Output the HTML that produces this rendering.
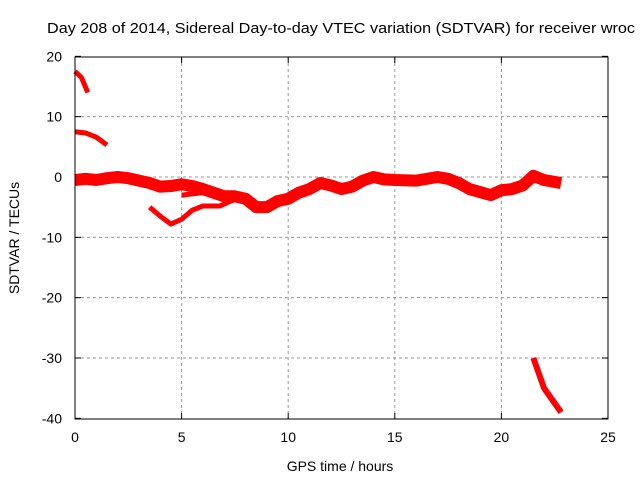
<!DOCTYPE html>
<html><head><meta charset="utf-8"><style>
body{margin:0;background:#fff}
svg{display:block;font-family:"Liberation Sans",sans-serif}
</style></head><body>
<svg id="c" width="640" height="480">
<text x="47" y="33" font-size="14.5" fill="#000" textLength="588" lengthAdjust="spacingAndGlyphs">Day 208 of 2014, Sidereal Day-to-day VTEC variation (SDTVAR) for receiver wroc</text>
<text x="340" y="471" font-size="14" text-anchor="middle">GPS time / hours</text>
<text transform="translate(19,238) rotate(-90)" font-size="14" text-anchor="middle">SDTVAR / TECUs</text>
<g id="grid"></g><g id="marks"></g>
<rect x="75" y="57" width="533" height="362" fill="none" stroke="#000" stroke-width="1"/>
</svg>
<script>
const xTicks=[0,5,10,15,20,25];
const yTicks=[20,10,0,-10,-20,-30,-40];
const segA=[[0,17.5],[0.3,16.5],[0.6,14]];
const segB=[[0,7.5],[0.5,7.3],[1,6.6],[1.5,5.3]];
const segMain=[[0,-0.5],[0.5,-0.3],[1,-0.5],[1.5,-0.2],[2,0],[2.5,-0.2],[3,-0.6],[3.5,-1],[4,-1.6],[4.5,-1.5],[5,-1.2],[5.5,-1.5],[6,-2],[6.5,-2.6],[7,-3.2],[7.5,-3.2],[8,-3.6],[8.5,-5],[9,-5],[9.5,-4],[10,-3.6],[10.5,-2.6],[11,-2],[11.5,-1],[12,-1.4],[12.5,-2],[13,-1.6],[13.5,-0.6],[14,0],[14.5,-0.4],[15,-0.5],[16,-0.6],[17,0],[17.5,-0.3],[18,-1],[18.5,-2],[19,-2.5],[19.5,-3],[20,-2.2],[20.5,-2],[21,-1.4],[21.5,0.2],[22,-0.5],[22.8,-1]];
const segLow=[[3.5,-5],[4,-6.5],[4.5,-7.8],[5,-7],[5.5,-5.5],[6,-4.8],[6.8,-4.8],[7.3,-4],[8,-3]];
const segLow2=[[5,-3],[5.5,-2.8],[6.2,-2.5]];
const segE=[[21.5,-30],[21.8,-33],[22,-35],[22.5,-37.5],[22.8,-39]];
const X=v=>75+v*533/25, Y=v=>177-v*362/60;
const ns="http://www.w3.org/2000/svg";
const grid=document.getElementById('grid'), marks=document.getElementById('marks');
function mk(t,a,p){const e=document.createElementNS(ns,t);for(const k in a)e.setAttribute(k,a[k]);p.appendChild(e);return e;}
xTicks.forEach(t=>{
 if(t>0&&t<25){const g=mk('line',{x1:X(t),x2:X(t),y1:57,y2:419,stroke:'#999','stroke-dasharray':'3,3'},grid);
 
 }
 mk('line',{x1:X(t),x2:X(t),y1:419,y2:413,stroke:'#000'},grid);
 mk('line',{x1:X(t),x2:X(t),y1:57,y2:63,stroke:'#000'},grid);
 const l=mk('text',{x:X(t),y:442,'font-size':14,'text-anchor':'middle'},grid);l.textContent=t;
 
 
});
yTicks.forEach(t=>{
 if(t<20&&t>-40){const g=mk('line',{x1:75,x2:608,y1:Y(t),y2:Y(t),stroke:'#999','stroke-dasharray':'3,3'},grid);
 
 }
 mk('line',{x1:75,x2:81,y1:Y(t),y2:Y(t),stroke:'#000'},grid);
 mk('line',{x1:602,x2:608,y1:Y(t),y2:Y(t),stroke:'#000'},grid);
 const l=mk('text',{x:62,y:Y(t)+5,'font-size':14,'text-anchor':'end'},grid);l.textContent=t;
 
 
});
[[segA,5,'series-segment-a'],[segB,5,'series-segment-b'],[segMain,12,'series-main-band'],[segLow,5,'series-lower-branch'],[segLow2,5,'series-lower-branch-2'],[segE,6,'series-segment-e']].forEach(([d,w,n])=>{
 const p=mk('polyline',{points:d.map(q=>X(q[0])+','+Y(q[1])).join(' '),fill:'none',stroke:'#f00','stroke-width':w,'stroke-linejoin':'round'},marks);
 
 
});
</script>
</body></html>
